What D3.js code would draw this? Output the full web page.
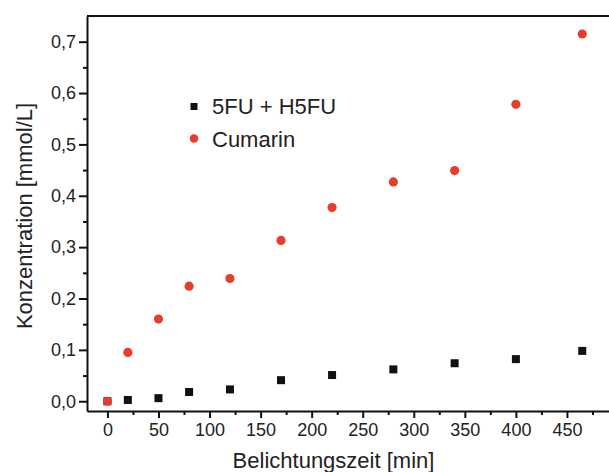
<!DOCTYPE html>
<html>
<head>
<meta charset="utf-8">
<script src="https://cdnjs.cloudflare.com/ajax/libs/d3/7.8.5/d3.min.js"></script>
<style>
  body { margin: 0; background: #fff; }
  svg { display: block; font-family: "Liberation Sans", Arial, sans-serif; }
  .axis path, .axis line { stroke: #111; stroke-width: 2; }
  .axis text { fill: #222; font-size: 18px; }
</style>
</head>
<body>
<div id="chart"></div>
<script>
// exposure time [min]
var times = [0, 20, 50, 80, 120, 170, 220, 280, 340, 400, 465];
// concentrations [mmol/L]
var fuValues = [0.0, 0.0025, 0.006, 0.018, 0.023, 0.041, 0.051, 0.062, 0.074, 0.082, 0.098];
var cumarinValues = [0.0, 0.095, 0.160, 0.224, 0.239, 0.313, 0.377, 0.427, 0.449, 0.578, 0.715];
var seriesNames = ["5FU + H5FU", "Cumarin"];
var xTicks = [0, 50, 100, 150, 200, 250, 300, 350, 400, 450];
var yTicks = [0, 0.1, 0.2, 0.3, 0.4, 0.5, 0.6, 0.7];

var svgWidth = 609;
var svgHeight = 472;

var margin = { top: 16, right: -9, bottom: 61, left: 87 };
var width = svgWidth - margin.left - margin.right;
var height = svgHeight - margin.top - margin.bottom;

var red = "#e63e2c";
var black = "#111";

var svg = d3.select("#chart")
  .append("svg")
  .attr("width", svgWidth)
  .attr("height", svgHeight);

var chartGroup = svg.append("g")
  .attr("transform", `translate(${margin.left}, ${margin.top})`);

var x = d3.scaleLinear().domain([-20, 500]).range([0, width]);
var y = d3.scaleLinear().domain([-0.019, 0.75]).range([height, 0]);

var fmt = d => d3.format(".1f")(d).replace(".", ",");

// minor ticks first
chartGroup.append("g")
  .attr("class", "axis")
  .attr("transform", `translate(0, ${height})`)
  .call(d3.axisBottom(x).tickValues(d3.range(25, 500, 50)).tickSize(4).tickFormat(""))
  .select(".domain").remove();

chartGroup.append("g")
  .attr("class", "axis")
  .call(d3.axisLeft(y).tickValues(d3.range(0.05, 0.75, 0.1)).tickSize(4).tickFormat(""))
  .select(".domain").remove();

// major axes
chartGroup.append("g")
  .attr("class", "axis")
  .attr("transform", `translate(0, ${height})`)
  .call(d3.axisBottom(x).tickValues(xTicks).tickSize(7).tickSizeOuter(0).tickPadding(5));

chartGroup.append("g")
  .attr("class", "axis")
  .call(d3.axisLeft(y).tickValues(yTicks).tickFormat(fmt).tickSize(8).tickSizeOuter(0).tickPadding(3));

// top frame line
chartGroup.append("line")
  .attr("x1", x(-20)).attr("x2", x(500))
  .attr("y1", y(0.75)).attr("y2", y(0.75))
  .attr("stroke", black)
  .attr("stroke-width", 2);

var fuData = times.map((t, i) => ({ t: t, v: fuValues[i] }));
var cuData = times.map((t, i) => ({ t: t, v: cumarinValues[i] }));

chartGroup.selectAll(".fu")
  .data(fuData)
  .enter()
  .append("rect")
  .attr("class", "fu")
  .attr("x", d => x(d.t) - 4)
  .attr("y", d => y(d.v) - 4)
  .attr("width", 8)
  .attr("height", 8)
  .attr("fill", black);

chartGroup.selectAll(".cu")
  .data(cuData)
  .enter()
  .append("circle")
  .attr("class", "cu")
  .attr("cx", d => x(d.t))
  .attr("cy", d => y(d.v))
  .attr("r", 4.6)
  .attr("fill", red);

// legend
var legend = svg.append("g").attr("transform", "translate(194, 0)");
legend.append("rect")
  .attr("x", -3.5).attr("y", 103)
  .attr("width", 7).attr("height", 7)
  .attr("fill", black);
legend.append("circle")
  .attr("cx", 0).attr("cy", 138.5)
  .attr("r", 4.3)
  .attr("fill", red);
legend.selectAll("text")
  .data(seriesNames)
  .enter()
  .append("text")
  .attr("x", 18)
  .attr("y", (d, i) => 113.5 + i * 33.5)
  .attr("font-size", 22)
  .attr("fill", "#222")
  .text(d => d);

// axis titles
svg.append("text")
  .attr("x", 333.5)
  .attr("y", 468)
  .attr("text-anchor", "middle")
  .attr("font-size", 22)
  .attr("fill", "#222")
  .text("Belichtungszeit [min]");

svg.append("text")
  .attr("transform", "translate(32, 216) rotate(-90)")
  .attr("text-anchor", "middle")
  .attr("font-size", 22)
  .attr("fill", "#222")
  .text("Konzentration [mmol/L]");
</script>
</body>
</html>
